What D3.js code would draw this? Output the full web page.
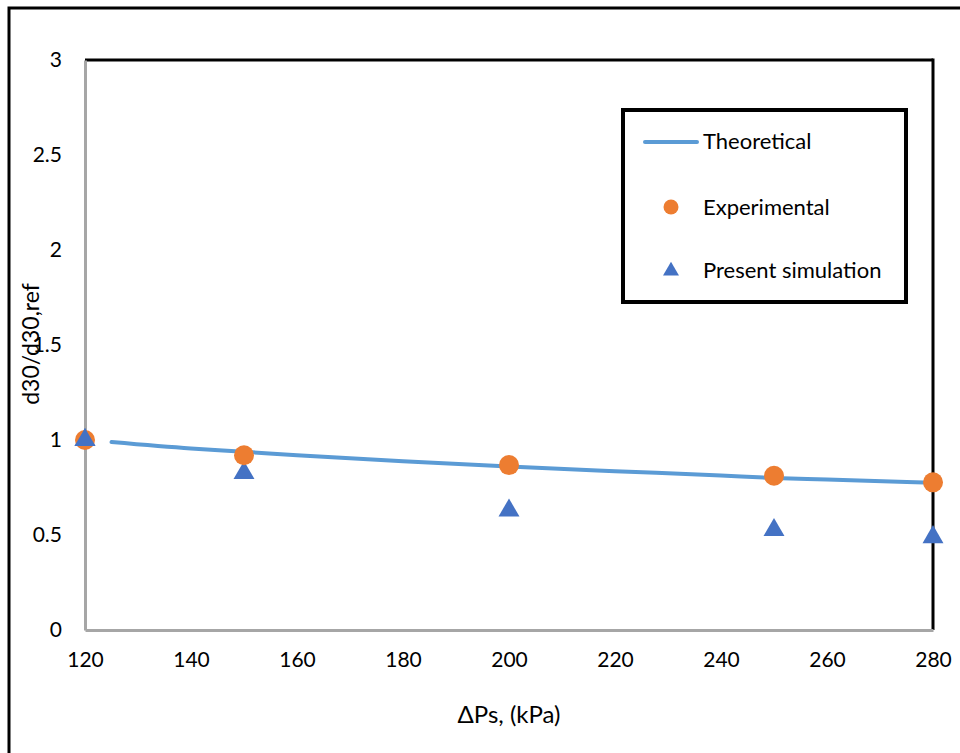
<!DOCTYPE html>
<html>
<head>
<meta charset="utf-8">
<script src="https://cdn.jsdelivr.net/npm/d3@7"></script>
<style>
  body { margin: 0; background: #fff; }
  text { font-family: Lato, "Liberation Sans", sans-serif; fill: #000; }
</style>
</head>
<body>
<div id="chart"></div>
<script>
// data
var expX = [120, 150, 200, 250, 280];
var expY = [1.0, 0.92, 0.868, 0.812, 0.777];
var simX = [120, 150, 200, 250, 280];
var simY = [1.0, 0.826, 0.629, 0.526, 0.489];
var theoX = [125, 140, 150, 160, 180, 200, 220, 240, 250, 260, 280];
var theoY = [0.989, 0.955, 0.938, 0.92, 0.888, 0.86, 0.836, 0.813, 0.80, 0.792, 0.775];
var xTicks = [120, 140, 160, 180, 200, 220, 240, 260, 280];
var yTicks = [0, 0.5, 1, 1.5, 2, 2.5, 3];
var legendNames = ["Theoretical", "Experimental", "Present simulation"];

var svgWidth = 960;
var svgHeight = 753;

var margin = { top: 60, right: 27, bottom: 123, left: 85 };
var width = svgWidth - margin.left - margin.right;
var height = svgHeight - margin.top - margin.bottom;

var svg = d3
  .select("#chart")
  .append("svg")
  .attr("width", svgWidth)
  .attr("height", svgHeight);

// outer frame (runs off the right/bottom edge like the reference)
svg
  .append("rect")
  .attr("x", 9)
  .attr("y", 8)
  .attr("width", 980)
  .attr("height", 780)
  .attr("fill", "none")
  .attr("stroke", "#000")
  .attr("stroke-width", 3);

var chartGroup = svg
  .append("g")
  .attr("transform", `translate(${margin.left}, ${margin.top})`);

var xScale = d3.scaleLinear().domain([120, 280]).range([0, width]);
var yScale = d3.scaleLinear().domain([0, 3]).range([height, 0]);

// plot area frame: black top/right, grey axes left/bottom
chartGroup
  .append("line")
  .attr("x1", 0)
  .attr("x2", width)
  .attr("y1", 0)
  .attr("y2", 0)
  .attr("stroke", "#000")
  .attr("stroke-width", 3);
chartGroup
  .append("line")
  .attr("x1", width)
  .attr("x2", width)
  .attr("y1", -1.5)
  .attr("y2", height)
  .attr("stroke", "#000")
  .attr("stroke-width", 3);

var bottomAxis = d3
  .axisBottom(xScale)
  .tickValues(xTicks)
  .tickSize(0)
  .tickPadding(22);
var leftAxis = d3
  .axisLeft(yScale)
  .tickValues(yTicks)
  .tickSize(0)
  .tickPadding(23)
  .tickFormat((d) => String(d));

var xAxis = chartGroup
  .append("g")
  .attr("transform", `translate(0, ${height})`)
  .call(bottomAxis);
var yAxis = chartGroup.append("g").call(leftAxis);

[xAxis, yAxis].forEach(function (ax) {
  ax.select(".domain").attr("stroke", "#a6a6a6").attr("stroke-width", 3);
  ax.selectAll("text")
    .attr("font-size", "21px")
    .attr("font-family", "Lato, 'Liberation Sans', sans-serif")
    .attr("fill", "#000");
});

// theoretical curve
var line = d3
  .line()
  .x((d) => xScale(d[0]))
  .y((d) => yScale(d[1]))
  .curve(d3.curveMonotoneX);

chartGroup
  .append("path")
  .datum(d3.zip(theoX, theoY))
  .attr("d", line)
  .attr("fill", "none")
  .attr("stroke", "#5b9bd5")
  .attr("stroke-width", 4)
  .attr("stroke-linecap", "round");

var triangle = d3.symbol().type(d3.symbolTriangle).size(190);

// simulation triangles
chartGroup
  .selectAll(".sim")
  .data(d3.zip(simX, simY))
  .enter()
  .append("path")
  .attr("class", "sim")
  .attr("d", triangle)
  .attr("transform", (d) => `translate(${xScale(d[0])}, ${yScale(d[1])})`)
  .attr("fill", "#4472c4");

// experimental circles
chartGroup
  .selectAll(".exp")
  .data(d3.zip(expX, expY))
  .enter()
  .append("circle")
  .attr("class", "exp")
  .attr("cx", (d) => xScale(d[0]))
  .attr("cy", (d) => yScale(d[1]))
  .attr("r", 10)
  .attr("fill", "#ed7d31");

// simulation on top at 120 like the reference
chartGroup
  .append("path")
  .attr("d", triangle)
  .attr("transform", `translate(${xScale(simX[0])}, ${yScale(simY[0])})`)
  .attr("fill", "#4472c4");

// axis titles
svg
  .append("text")
  .attr("transform", `translate(39, ${margin.top + height / 2 - 1}) rotate(-90)`)
  .attr("text-anchor", "middle")
  .attr("font-size", "23px")
  .text("d30/d30,ref");

svg
  .append("text")
  .attr("x", margin.left + width / 2)
  .attr("y", 723)
  .attr("text-anchor", "middle")
  .attr("font-size", "24px")
  .text("ΔPs, (kPa)");

// legend
var legend = svg.append("g");
legend
  .append("rect")
  .attr("x", 623)
  .attr("y", 110)
  .attr("width", 283)
  .attr("height", 192)
  .attr("fill", "#fff")
  .attr("stroke", "#000")
  .attr("stroke-width", 4);

legend
  .append("line")
  .attr("x1", 645)
  .attr("x2", 697)
  .attr("y1", 142)
  .attr("y2", 142)
  .attr("stroke", "#5b9bd5")
  .attr("stroke-width", 4)
  .attr("stroke-linecap", "round");
legend
  .append("circle")
  .attr("cx", 671)
  .attr("cy", 207)
  .attr("r", 7.5)
  .attr("fill", "#ed7d31");
legend
  .append("path")
  .attr("d", d3.symbol().type(d3.symbolTriangle).size(110))
  .attr("transform", "translate(671, 271)")
  .attr("fill", "#4472c4");

legend
  .selectAll(".legText")
  .data(legendNames)
  .enter()
  .append("text")
  .attr("class", "legText")
  .attr("x", 703)
  .attr("y", (d, i) => [141, 207, 270][i])
  .attr("dy", "0.35em")
  .attr("font-size", "22px")
  .text((d) => d);
</script>
</body>
</html>
